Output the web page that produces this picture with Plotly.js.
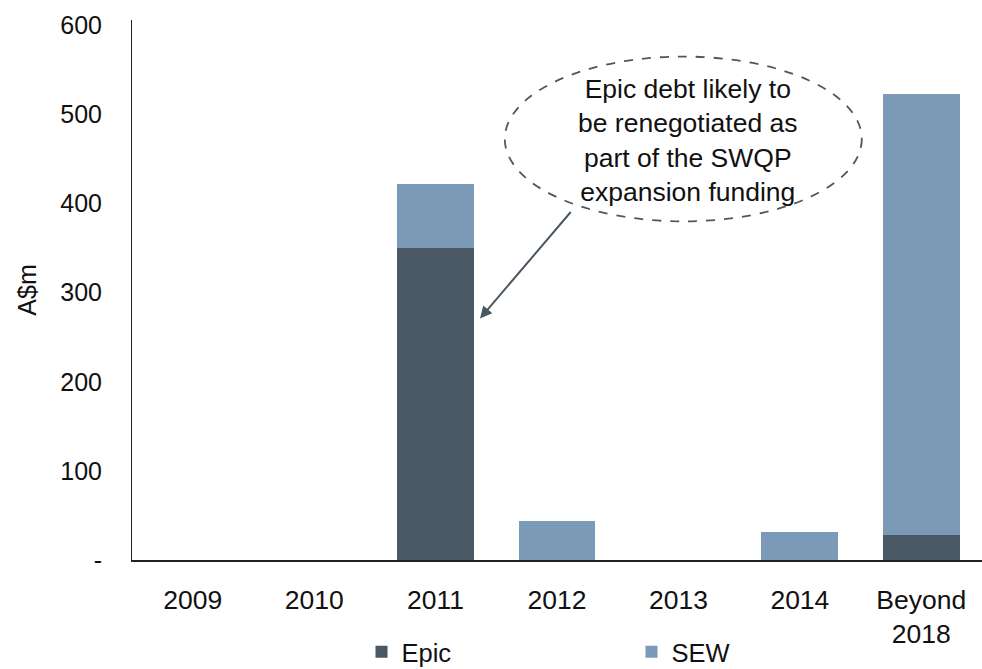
<!DOCTYPE html>
<html>
<head>
<meta charset="utf-8">
<script src="https://cdn.plot.ly/plotly-3.0.1.min.js"></script>
<style>html,body{margin:0;padding:0;background:#fff;}#chart{width:982px;height:669px;}</style>
</head>
<body>
<div id="chart"></div>
<script>
var categories = ['2009', '2010', '2011', '2012', '2013', '2014', 'Beyond<br>2018'];
var epicValues = [0, 0, 350, 0, 0, 0, 28];
var sewValues = [0, 0, 72, 44, 0, 31, 495];
var yTickVals = [0, 100, 200, 300, 400, 500, 600];
var yTickText = ['-', '100', '200', '300', '400', '500', '600'];
var calloutText = 'Epic debt likely to<br>be renegotiated as<br>part of the SWQP<br>expansion funding';

var FONT = 'Arial, "Liberation Sans", sans-serif';
var data = [
  {type: 'bar', name: 'Epic', x: categories, y: epicValues,
   marker: {color: '#4a5863', line: {width: 0}}, hoverinfo: 'skip'},
  {type: 'bar', name: 'SEW', x: categories, y: sewValues,
   marker: {color: '#7a9ab8', line: {width: 0}}, hoverinfo: 'skip'}
];
var layout = {
  width: 982, height: 669,
  margin: {l: 132, r: 0, t: 20, b: 109, autoexpand: false},
  paper_bgcolor: '#fff', plot_bgcolor: '#fff',
  font: {family: FONT, size: 25, color: '#111'},
  barmode: 'stack',
  bargap: 0.366,
  showlegend: true,
  legend: {orientation: 'h', x: 0.270, xanchor: 'left', y: -0.127, yanchor: 'top',
           entrywidth: 225, entrywidthmode: 'pixels', font: {size: 25.5, family: FONT, color: '#111'},
           bgcolor: 'rgba(0,0,0,0)', itemclick: false, traceorder: 'normal', tracegroupgap: 0},
  xaxis: {type: 'category', showgrid: false, zeroline: false, showline: true, automargin: false,
          linecolor: '#222', linewidth: 2, ticks: '', ticklabelstandoff: 15,
          tickfont: {size: 26.5, family: FONT, color: '#111'}, fixedrange: true},
  yaxis: {range: [0, 606], showgrid: false, zeroline: false, showline: true, automargin: false,
          linecolor: '#222', linewidth: 1, ticks: '',
          tickvals: yTickVals, ticktext: yTickText, ticklabelstandoff: 24,
          tickfont: {size: 25, family: FONT, color: '#111'},
          title: {text: 'A$m', font: {size: 25, family: FONT, color: '#111'}, standoff: 16},
          fixedrange: true},
  shapes: [
    {type: 'circle', xref: 'x', yref: 'y', x0: 2.57, x1: 5.51, y0: 380, y1: 565,
     line: {color: '#4a5863', width: 1.8, dash: 'dash'}, fillcolor: 'rgba(0,0,0,0)', layer: 'above'}
  ],
  annotations: [
    {xref: 'x', yref: 'y', x: 4.08, y: 471, text: calloutText, showarrow: false,
     font: {size: 26.5, family: FONT, color: '#111'}, align: 'center'},
    {xref: 'x', yref: 'y', x: 2.366, y: 271, text: '', showarrow: true,
     ax: 92, ay: -108, arrowcolor: '#4a5863', arrowwidth: 2, arrowhead: 2, arrowsize: 1.2}
  ]
};
Plotly.newPlot('chart', data, layout, {displayModeBar: false, staticPlot: true});
</script>
</body>
</html>
